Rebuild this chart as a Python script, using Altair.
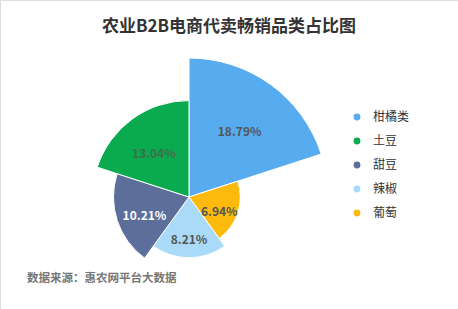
import altair as alt
import pandas as pd
import math

categories = ["柑橘类", "葡萄", "辣椒", "甜豆", "土豆"]
values = [18.79, 6.94, 8.21, 10.21, 13.04]
labels = ["18.79%", "6.94%", "8.21%", "10.21%", "13.04%"]
label_colors = ["#555555", "#555555", "#555555", "#ffffff", "#3f6e4c"]
legend_order = ["柑橘类", "土豆", "甜豆", "辣椒", "葡萄"]
legend_colors = ["#57acef", "#0aab4e", "#5b6f9a", "#a9daf7", "#fdba0c"]

title_text = "农业B2B电商代卖畅销品类占比图"
source_text = "数据来源：惠农网平台大数据"

df = pd.DataFrame({
    "cat": categories,
    "value": values,
    "label": labels,
    "lcolor": label_colors,
    "ord": list(range(len(categories))),
})

FONT = "Noto Sans CJK SC"
cx, cy = 189, 197
n = len(categories)

rscale = alt.Scale(type="linear", domain=[0, max(values)], range=[0, 139])
tscale = alt.Scale(type="linear", domain=[0, n], range=[0, 2 * math.pi])

base = alt.Chart(df).transform_calculate(
    t0="datum.ord", t1="datum.ord + 1", tm="datum.ord + 0.5", lr="datum.value * 0.62"
)

arcs = base.mark_arc(stroke="white", strokeWidth=1).encode(
    x=alt.value(cx),
    y=alt.value(cy),
    theta=alt.Theta("t0:Q", scale=tscale),
    theta2="t1:Q",
    radius=alt.Radius("value:Q", scale=rscale),
    color=alt.Color(
        "cat:N",
        scale=alt.Scale(domain=legend_order, range=legend_colors),
        legend=alt.Legend(
            title=None,
            orient="none",
            legendX=351,
            legendY=111,
            symbolType="circle",
            symbolSize=70,
            labelFont=FONT,
            labelFontSize=12,
            labelColor="#333333",
            rowPadding=8,
            labelOffset=10,
        ),
    ),
)

texts = base.mark_text(font=FONT, fontSize=12, fontWeight=600, dy=5).encode(
    x=alt.value(cx),
    y=alt.value(cy),
    theta=alt.Theta("tm:Q", scale=tscale),
    radius=alt.Radius("lr:Q", scale=rscale),
    text="label:N",
    color=alt.Color("lcolor:N", scale=None),
)

title = alt.Chart(pd.DataFrame({"t": [title_text]})).mark_text(
    font=FONT, fontSize=17, fontWeight="bold", color="#333333"
).encode(x=alt.value(229), y=alt.value(27), text="t:N")

source = alt.Chart(pd.DataFrame({"t": [source_text]})).mark_text(
    font=FONT, fontSize=11.5, fontWeight="bold", color="#777777", align="left"
).encode(x=alt.value(27), y=alt.value(279), text="t:N")

chart = alt.layer(arcs, texts, title, source).properties(
    width=458, height=309, autosize=alt.AutoSizeParams(type="none"), padding=0
).configure_view(stroke=None).configure(background="white")

chart.save("out.html", embed_options={"renderer": "svg", "actions": False})
